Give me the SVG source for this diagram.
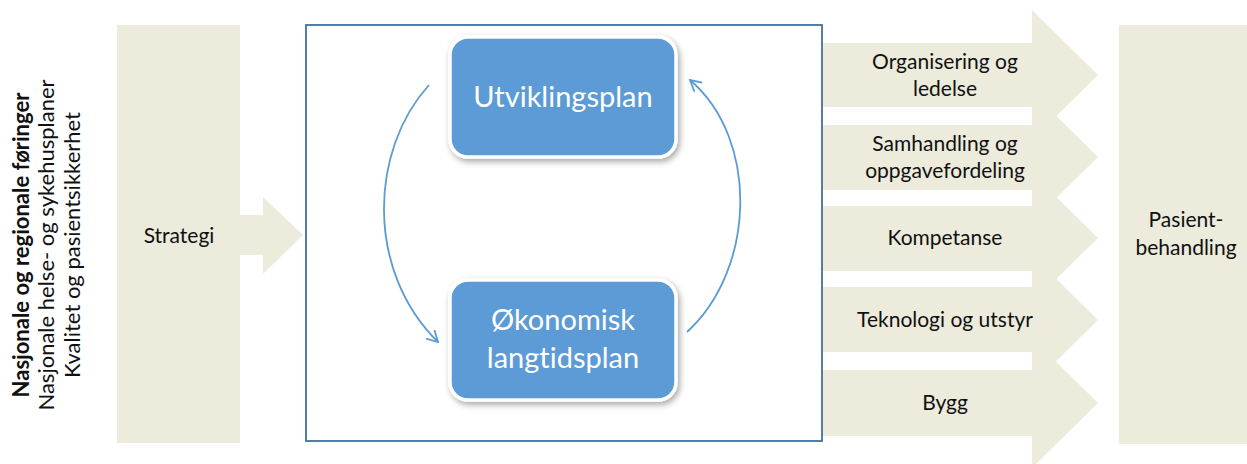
<svg xmlns="http://www.w3.org/2000/svg" width="1247" height="464" viewBox="0 0 1247 464">
<style>
.panel{fill:#ECEBDC}
.lbl{font-family:Lato,"Liberation Sans",sans-serif;font-size:21px;fill:#111;text-anchor:middle;font-variant-ligatures:none}
.side{font-family:Lato,"Liberation Sans",sans-serif;font-size:22px;fill:#111;text-anchor:middle;font-variant-ligatures:none}
.box{fill:#5B9BD5;stroke:#fff;stroke-width:3.5}
.boxt{font-family:Lato,"Liberation Sans",sans-serif;font-size:29px;fill:#fff;text-anchor:middle;font-variant-ligatures:none}
.arc{fill:none;stroke:#5B9BD5;stroke-width:1.8}
</style>
<defs>
<filter id="sh" x="-20%" y="-20%" width="140%" height="150%">
<feDropShadow dx="2" dy="3" stdDeviation="3" flood-color="#000" flood-opacity="0.35"/>
</filter>
<marker id="open" viewBox="0 0 14 14" refX="12" refY="7" markerWidth="14" markerHeight="14" markerUnits="userSpaceOnUse" orient="auto">
<path d="M1,1 L12,7 L1,13" fill="none" stroke="#5B9BD5" stroke-width="1.8"/>
</marker>
</defs>
<g id="side-text">
<text class="side" transform="translate(29,245) rotate(-90)" font-weight="bold">Nasjonale og regionale føringer</text>
<text class="side" transform="translate(54,245) rotate(-90)">Nasjonale helse- og sykehusplaner</text>
<text class="side" transform="translate(80,245) rotate(-90)">Kvalitet og pasientsikkerhet</text>
</g>
<g id="strategi">
<rect class="panel" x="117" y="25" width="123" height="418"/>
<path class="panel" d="M239,215 L263,215 L263,197 L303,235 L263,274 L263,255 L239,255 Z"/>
<text class="lbl" x="179" y="243">Strategi</text>
</g>
<g id="frame">
<rect x="306" y="25" width="516" height="416" fill="#fff" stroke="#41719C" stroke-width="1.8"/>
</g>
<g id="utviklingsplan">
<rect class="box" x="450" y="37" width="226" height="120" rx="18" filter="url(#sh)"/>
<text class="boxt" x="563" y="107">Utviklingsplan</text>
</g>
<g id="okonomisk">
<rect class="box" x="450" y="280" width="226" height="120" rx="18" filter="url(#sh)"/>
<text class="boxt" x="563" y="330">Økonomisk</text>
<text class="boxt" x="563" y="368">langtidsplan</text>
</g>
<g id="connectors">
<path class="arc" d="M429,85 C370,150 365,270 438,342" marker-end="url(#open)"/>
<path class="arc" d="M687,332 C755,270 760,140 690,80" marker-end="url(#open)"/>
</g>
<g id="arrows">
<g id="a1"><path class="panel" d="M823,43 L1032,43 L1032,10 L1098,75 L1032,140 L1032,107 L823,107 Z"/>
<text class="lbl" x="945" y="69">Organisering og</text><text class="lbl" x="945" y="96">ledelse</text></g>
<g id="a2"><path class="panel" d="M823,125 L1032,125 L1032,92 L1098,157 L1032,222 L1032,190 L823,190 Z"/>
<text class="lbl" x="945" y="151">Samhandling og</text><text class="lbl" x="945" y="178">oppgavefordeling</text></g>
<g id="a3"><path class="panel" d="M823,206 L1032,206 L1032,173 L1098,238 L1032,303 L1032,271 L823,271 Z"/>
<text class="lbl" x="945" y="245">Kompetanse</text></g>
<g id="a4"><path class="panel" d="M823,287 L1032,287 L1032,255 L1098,320 L1032,385 L1032,352 L823,352 Z"/>
<text class="lbl" x="945" y="327">Teknologi og utstyr</text></g>
<g id="a5"><path class="panel" d="M823,370 L1032,370 L1032,338 L1098,403 L1032,468 L1032,436 L823,436 Z"/>
<text class="lbl" x="945" y="410">Bygg</text></g>
</g>
<g id="pasient">
<rect class="panel" x="1119" y="25" width="128" height="419"/>
<text class="lbl" x="1186" y="227">Pasient-</text>
<text class="lbl" x="1186" y="255">behandling</text>
</g>
</svg>
